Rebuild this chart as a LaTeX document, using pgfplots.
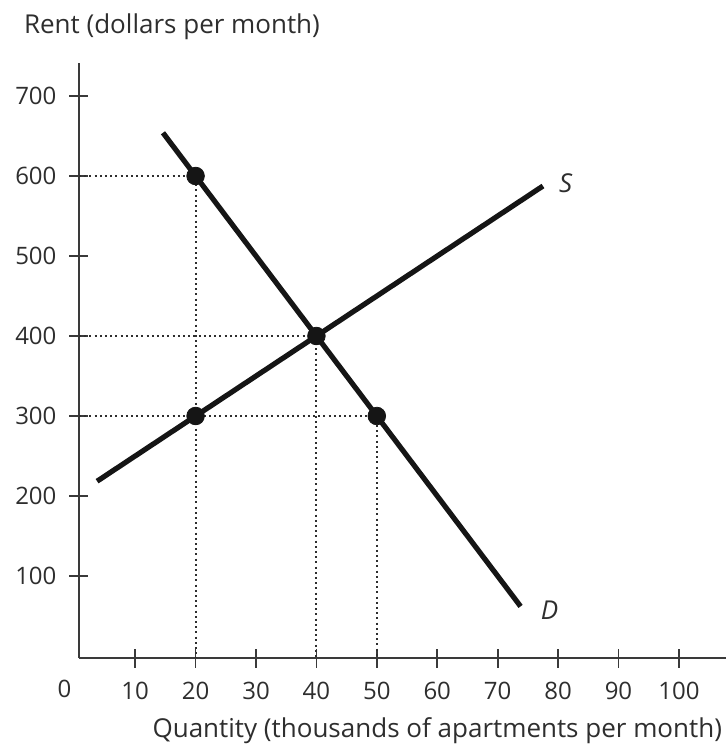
\documentclass[border=0pt]{standalone}
\usepackage{pgfplots}
\pgfplotsset{compat=1.18}
\usepackage{fontspec}
\setmainfont{Open Sans}
\definecolor{axgray}{HTML}{3A3A3A}
\definecolor{txt}{HTML}{2E2E2E}
\definecolor{crv}{HTML}{151515}
\begin{document}
\begin{tikzpicture}
\useasboundingbox (-39.5pt,-45.5pt) rectangle (324pt,329pt);
\begin{axis}[
  at={(0pt,0pt)}, anchor=south west,
  scale only axis, width=323.5pt, height=297.4pt,
  xmin=0.7, xmax=107.8, ymin=-2.5, ymax=741,
  axis lines=left,
  axis line style={-, axgray, line width=1pt},
  xtick={10,20,...,100}, ytick={100,200,...,700},
  tick align=center, major tick length=9.5pt,
  tick style={axgray, line width=0.9pt},
  /pgf/number format/assume math mode=true,
  ticklabel style={font=\fontsize{12}{14}\selectfont, text=txt},
  xticklabel style={anchor=base, yshift=-16pt},
  yticklabel style={anchor=east, xshift=-3pt},
  clip=false,
]
% dotted guide lines
\addplot[txt, line width=1pt, dash pattern=on 1pt off 1.6pt] coordinates {(0.7,600) (20,600) (20,-2.5)};
\addplot[txt, line width=1pt, dash pattern=on 1pt off 1.6pt] coordinates {(0.7,400) (40,400) (40,-2.5)};
\addplot[txt, line width=1pt, dash pattern=on 1pt off 1.6pt] coordinates {(0.7,300) (50,300) (50,-2.5)};
% supply and demand
\addplot[crv, line width=2.6pt] coordinates {(3.7,218.5) (77.5,587.5)};
\addplot[crv, line width=2.6pt] coordinates {(14.6,654) (73.8,62)};
% points
\addplot[only marks, mark=*, mark size=4.4pt, crv] coordinates {(20,600) (40,400) (20,300) (50,300)};
% labels
\node[anchor=west, text=txt, font=\fontsize{13}{15}\selectfont\itshape] at (axis cs:79.0,591) {S};
\node[anchor=west, text=txt, font=\fontsize{13}{15}\selectfont\itshape] at (axis cs:76.0,57) {D};
\node[anchor=base, text=txt, font=\fontsize{12}{14}\selectfont] at (axis cs:-1.7,-2.5) [yshift=-19.5pt] {0};
\node[anchor=base west, text=txt, font=\fontsize{13}{15}\selectfont] at (rel axis cs:0,1) [xshift=-31pt, yshift=15pt] {Rent (dollars per month)};
\node[anchor=base east, text=txt, font=\fontsize{13}{15}\selectfont] at (rel axis cs:1,0) [xshift=1.5pt, yshift=-39.5pt] {Quantity (thousands of apartments per month)};
\end{axis}
\end{tikzpicture}
\end{document}
